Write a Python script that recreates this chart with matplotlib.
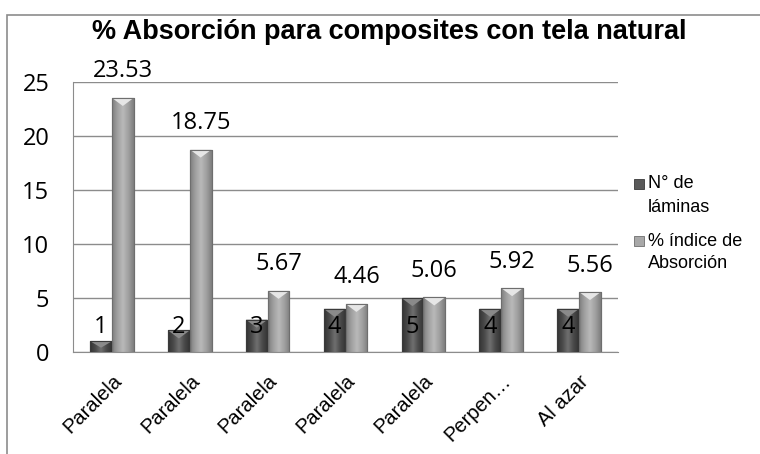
import matplotlib
matplotlib.use('Agg')
import matplotlib.pyplot as plt
from matplotlib.patches import Rectangle, Polygon
from matplotlib.colors import LinearSegmentedColormap
import matplotlib.transforms as mtransforms
import numpy as np

categorias = ['Paralela', 'Paralela', 'Paralela', 'Paralela', 'Paralela', 'Perpen…', 'Al azar']
laminas = [1, 2, 3, 4, 5, 4, 4]
absorcion = [23.53, 18.75, 5.67, 4.46, 5.06, 5.92, 5.56]
series = [['N° de', 'láminas'], ['% índice de', 'Absorción']]
yticks = [0, 5, 10, 15, 20, 25]

fig = plt.figure(figsize=(7.6, 4.54), dpi=100)
# marco exterior del gráfico
fig.patches.append(Rectangle((7 / 760, -0.01), 1.0, 1 - 15 / 454 + 0.01, transform=fig.transFigure,
                             fill=False, edgecolor='#8c8c8c', linewidth=1.2))
ax = fig.add_axes([73 / 760, 1 - 352 / 454, 545 / 760, 270 / 454])

x = np.arange(len(categorias))
w = 0.28
b1 = ax.bar(x - w / 2, laminas, w, color='#5a5a5a', edgecolor='#3a3a3a', linewidth=0.8, zorder=3)
b2 = ax.bar(x + w / 2, absorcion, w, color='#a8a8a8', edgecolor='#6e6e6e', linewidth=0.8, zorder=3)

# efecto biselado: degradado horizontal + triángulo claro arriba
grad = np.abs(np.linspace(-1, 1, 64))[None, :]
estilos = [(b1, ['#6e6e6e', '#4a4a4a', '#333333'], '#8a8a8a'),
           (b2, ['#b8b8b8', '#a0a0a0', '#7e7e7e'], '#e6e6e6')]
for barras, cols, tri in estilos:
    cmap = LinearSegmentedColormap.from_list('g', cols)
    for p in barras:
        x0, y0 = p.get_x(), p.get_y()
        bw, bh = p.get_width(), p.get_height()
        im = ax.imshow(grad, cmap=cmap, aspect='auto', extent=(x0, x0 + bw, y0, y0 + bh),
                       zorder=3.1, interpolation='bilinear')
        im.set_clip_path(p)
        d = min(0.75, bh * 0.6)
        ax.add_patch(Polygon([(x0, y0 + bh), (x0 + bw, y0 + bh), (x0 + bw / 2, y0 + bh - d)],
                             closed=True, facecolor=tri, edgecolor='none', zorder=3.2))
        ax.add_patch(Rectangle((x0, y0), bw, bh, fill=False, edgecolor=p.get_edgecolor(),
                               linewidth=0.8, zorder=3.3))

num_font = 'Open Sans'
for xi, v in zip(x, laminas):
    ax.text(xi - w / 2, 2.3, f'{v}', ha='center', va='center', fontsize=17, family=num_font, zorder=4)
for xi, v in zip(x, absorcion):
    ax.annotate(f'{v:.2f}', (xi + w / 2, v), xytext=(0, 19), textcoords='offset points',
                ha='center', va='center', fontsize=17, family=num_font, zorder=4)

ax.set_xlim(-0.5, len(categorias) - 0.5)
ax.set_ylim(0, 25)
ax.set_yticks(yticks)
ax.set_yticklabels([str(t) for t in yticks], fontsize=17, family=num_font)
ax.set_xticks(x)
ax.set_xticklabels(categorias, rotation=45, ha='right', rotation_mode='anchor',
                   fontsize=14.5, family='Liberation Sans')
desplaza = mtransforms.ScaledTranslation(-4 / 100, 0, fig.dpi_scale_trans)
for lab in ax.get_xticklabels():
    lab.set_transform(lab.get_transform() + desplaza)
ax.tick_params(axis='x', length=0, pad=14)
ax.tick_params(axis='y', length=0, pad=17)
ax.yaxis.grid(True, color='#8c8c8c', linewidth=1, zorder=0)
for s in ['top', 'right']:
    ax.spines[s].set_visible(False)
ax.spines['left'].set_color('#8c8c8c')
ax.spines['bottom'].set_color('#8c8c8c')

fig.text(389 / 760, 1 - 32 / 454, '% Absorción para composites con tela natural', ha='center', va='center',
         fontsize=19.5, fontweight='bold', family='Liberation Sans')

# leyenda: cuadro alineado con la primera línea de cada entrada
leg_y = [184, 241]
for (l1, l2), yy, barras in zip(series, leg_y, [b1, b2]):
    fig.patches.append(Rectangle((634 / 760, 1 - (yy + 5) / 454), 10 / 760, 10 / 454,
                                 transform=fig.transFigure, facecolor=barras[0].get_facecolor(),
                                 edgecolor=barras[0].get_edgecolor(), linewidth=0.6))
    fig.text(648 / 760, 1 - yy / 454, l1, ha='left', va='center', fontsize=13, family='Liberation Sans')
    fig.text(648 / 760, 1 - (yy + 23) / 454, l2, ha='left', va='center', fontsize=13,
             family='Liberation Sans')

fig.savefig('out.png', dpi=100)
